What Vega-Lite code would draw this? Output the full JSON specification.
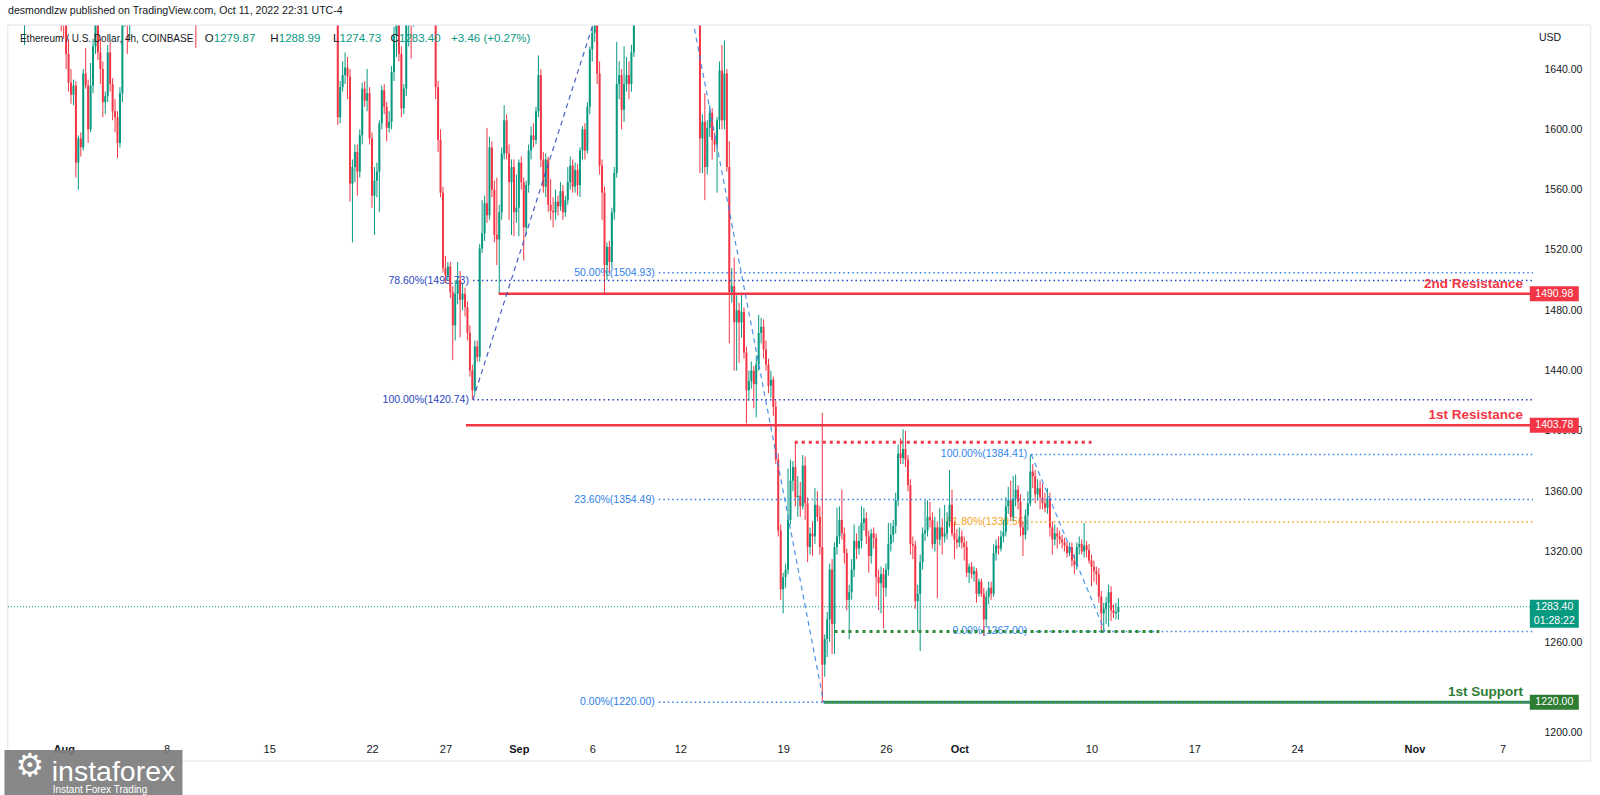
{
"$schema":"https://vega.github.io/schema/vega-lite/v6.json",
"width":1525,"height":712,
"autosize":{"type":"none"},
"padding":{"left":8,"top":25,"right":67,"bottom":58},
"background":"#ffffff",
"config":{"view":{"stroke":null},"font":"Liberation Sans, sans-serif"},
"title":{"text":"desmondlzw published on TradingView.com, Oct 11, 2022 22:31 UTC-4","anchor":"start","frame":"group","offset":6,"fontSize":10.6,"fontWeight":"normal","color":"#131722","font":"Liberation Sans, sans-serif"},
"datasets":{
"candles":[
{"t":"2022-07-28T16:00","o":1690,"h":1725,"l":1685,"c":1720},{"t":"2022-07-28T20:00","o":1720,"h":1745,"l":1712,"c":1738},
{"t":"2022-07-29T00:00","o":1738,"h":1765,"l":1730,"c":1755},{"t":"2022-07-29T04:00","o":1755,"h":1760,"l":1695,"c":1700},{"t":"2022-07-29T08:00","o":1700,"h":1738,"l":1656,"c":1725},{"t":"2022-07-29T12:00","o":1725,"h":1748,"l":1715,"c":1740},{"t":"2022-07-29T16:00","o":1740,"h":1752,"l":1725,"c":1732},{"t":"2022-07-29T20:00","o":1732,"h":1745,"l":1722,"c":1738},
{"t":"2022-07-30T00:00","o":1738,"h":1760,"l":1730,"c":1752},{"t":"2022-07-30T04:00","o":1752,"h":1765,"l":1740,"c":1745},{"t":"2022-07-30T08:00","o":1745,"h":1750,"l":1722,"c":1728},{"t":"2022-07-30T12:00","o":1728,"h":1740,"l":1715,"c":1735},{"t":"2022-07-30T16:00","o":1735,"h":1742,"l":1712,"c":1718},{"t":"2022-07-30T20:00","o":1718,"h":1725,"l":1700,"c":1705},
{"t":"2022-07-31T00:00","o":1705,"h":1720,"l":1696,"c":1712},{"t":"2022-07-31T04:00","o":1712,"h":1730,"l":1705,"c":1722},{"t":"2022-07-31T08:00","o":1722,"h":1728,"l":1700,"c":1706},{"t":"2022-07-31T12:00","o":1706,"h":1712,"l":1688,"c":1695},{"t":"2022-07-31T16:00","o":1695,"h":1702,"l":1675,"c":1688},{"t":"2022-07-31T20:00","o":1688,"h":1698,"l":1665,"c":1680},
{"t":"2022-08-01T00:00","o":1680,"h":1695,"l":1660,"c":1670},{"t":"2022-08-01T04:00","o":1670,"h":1676,"l":1640,"c":1650},{"t":"2022-08-01T08:00","o":1650,"h":1660,"l":1625,"c":1631},{"t":"2022-08-01T12:00","o":1631,"h":1640,"l":1617,"c":1623},{"t":"2022-08-01T16:00","o":1623,"h":1633,"l":1616,"c":1629},{"t":"2022-08-01T20:00","o":1629,"h":1632,"l":1568,"c":1578},
{"t":"2022-08-02T00:00","o":1578,"h":1596,"l":1560,"c":1594},{"t":"2022-08-02T04:00","o":1594,"h":1598,"l":1582,"c":1588},{"t":"2022-08-02T08:00","o":1588,"h":1640,"l":1586,"c":1637},{"t":"2022-08-02T12:00","o":1637,"h":1654,"l":1627,"c":1629},{"t":"2022-08-02T16:00","o":1629,"h":1633,"l":1591,"c":1600},{"t":"2022-08-02T20:00","o":1600,"h":1644,"l":1598,"c":1629},
{"t":"2022-08-03T00:00","o":1629,"h":1660,"l":1624,"c":1655},{"t":"2022-08-03T04:00","o":1655,"h":1690,"l":1650,"c":1680},{"t":"2022-08-03T08:00","o":1680,"h":1688,"l":1646,"c":1651},{"t":"2022-08-03T12:00","o":1651,"h":1660,"l":1630,"c":1640},{"t":"2022-08-03T16:00","o":1640,"h":1645,"l":1608,"c":1618},{"t":"2022-08-03T20:00","o":1618,"h":1625,"l":1610,"c":1622},
{"t":"2022-08-04T00:00","o":1622,"h":1656,"l":1618,"c":1651},{"t":"2022-08-04T04:00","o":1651,"h":1658,"l":1625,"c":1630},{"t":"2022-08-04T08:00","o":1630,"h":1634,"l":1606,"c":1612},{"t":"2022-08-04T12:00","o":1612,"h":1620,"l":1598,"c":1608},{"t":"2022-08-04T16:00","o":1608,"h":1612,"l":1581,"c":1591},{"t":"2022-08-04T20:00","o":1591,"h":1628,"l":1588,"c":1624},
{"t":"2022-08-05T00:00","o":1624,"h":1700,"l":1618,"c":1690},{"t":"2022-08-05T04:00","o":1690,"h":1722,"l":1668,"c":1710},{"t":"2022-08-05T08:00","o":1710,"h":1725,"l":1650,"c":1698},{"t":"2022-08-05T12:00","o":1698,"h":1715,"l":1660,"c":1708},{"t":"2022-08-05T16:00","o":1708,"h":1740,"l":1700,"c":1730},{"t":"2022-08-05T20:00","o":1730,"h":1742,"l":1715,"c":1725},
{"t":"2022-08-06T00:00","o":1725,"h":1745,"l":1720,"c":1735},{"t":"2022-08-06T04:00","o":1735,"h":1740,"l":1722,"c":1728},{"t":"2022-08-06T08:00","o":1728,"h":1732,"l":1708,"c":1715},{"t":"2022-08-06T12:00","o":1715,"h":1728,"l":1710,"c":1720},{"t":"2022-08-06T16:00","o":1720,"h":1724,"l":1705,"c":1712},{"t":"2022-08-06T20:00","o":1712,"h":1718,"l":1698,"c":1705},
{"t":"2022-08-07T00:00","o":1705,"h":1710,"l":1684,"c":1698},{"t":"2022-08-07T04:00","o":1698,"h":1712,"l":1692,"c":1705},{"t":"2022-08-07T08:00","o":1705,"h":1722,"l":1700,"c":1715},{"t":"2022-08-07T12:00","o":1715,"h":1720,"l":1696,"c":1702},{"t":"2022-08-07T16:00","o":1702,"h":1716,"l":1698,"c":1710},{"t":"2022-08-07T20:00","o":1710,"h":1728,"l":1705,"c":1720},
{"t":"2022-08-08T00:00","o":1720,"h":1768,"l":1715,"c":1760},{"t":"2022-08-08T04:00","o":1760,"h":1805,"l":1752,"c":1790},{"t":"2022-08-08T08:00","o":1790,"h":1798,"l":1768,"c":1775},{"t":"2022-08-08T12:00","o":1775,"h":1792,"l":1770,"c":1780},{"t":"2022-08-08T16:00","o":1780,"h":1786,"l":1762,"c":1770},{"t":"2022-08-08T20:00","o":1770,"h":1782,"l":1760,"c":1775},
{"t":"2022-08-09T00:00","o":1775,"h":1780,"l":1755,"c":1765},{"t":"2022-08-09T04:00","o":1765,"h":1770,"l":1742,"c":1750},{"t":"2022-08-09T08:00","o":1750,"h":1758,"l":1732,"c":1740},{"t":"2022-08-09T12:00","o":1740,"h":1746,"l":1712,"c":1720},{"t":"2022-08-09T16:00","o":1720,"h":1728,"l":1692,"c":1700},{"t":"2022-08-09T20:00","o":1700,"h":1708,"l":1680,"c":1690},
{"t":"2022-08-10T00:00","o":1690,"h":1698,"l":1654,"c":1682},{"t":"2022-08-10T04:00","o":1682,"h":1705,"l":1676,"c":1700},{"t":"2022-08-10T08:00","o":1700,"h":1726,"l":1695,"c":1720},{"t":"2022-08-10T12:00","o":1720,"h":1848,"l":1715,"c":1840},{"t":"2022-08-10T16:00","o":1840,"h":1852,"l":1815,"c":1830},{"t":"2022-08-10T20:00","o":1830,"h":1858,"l":1825,"c":1850},
{"t":"2022-08-11T00:00","o":1850,"h":1868,"l":1842,"c":1860},{"t":"2022-08-11T04:00","o":1860,"h":1890,"l":1852,"c":1880},{"t":"2022-08-11T08:00","o":1880,"h":1886,"l":1860,"c":1870},{"t":"2022-08-11T12:00","o":1870,"h":1935,"l":1866,"c":1900},{"t":"2022-08-11T16:00","o":1900,"h":1905,"l":1872,"c":1880},{"t":"2022-08-11T20:00","o":1880,"h":1892,"l":1870,"c":1884},
{"t":"2022-08-12T00:00","o":1884,"h":1886,"l":1862,"c":1870},{"t":"2022-08-12T04:00","o":1870,"h":1895,"l":1865,"c":1890},{"t":"2022-08-12T08:00","o":1890,"h":1905,"l":1882,"c":1900},{"t":"2022-08-12T12:00","o":1900,"h":1915,"l":1892,"c":1910},{"t":"2022-08-12T16:00","o":1910,"h":1926,"l":1902,"c":1920},{"t":"2022-08-12T20:00","o":1920,"h":1958,"l":1915,"c":1950},
{"t":"2022-08-13T00:00","o":1950,"h":1975,"l":1945,"c":1970},{"t":"2022-08-13T04:00","o":1970,"h":1988,"l":1962,"c":1980},{"t":"2022-08-13T08:00","o":1980,"h":1998,"l":1975,"c":1990},{"t":"2022-08-13T12:00","o":1990,"h":1994,"l":1968,"c":1975},{"t":"2022-08-13T16:00","o":1975,"h":1990,"l":1970,"c":1985},{"t":"2022-08-13T20:00","o":1985,"h":1992,"l":1972,"c":1980},
{"t":"2022-08-14T00:00","o":1980,"h":2000,"l":1976,"c":1995},{"t":"2022-08-14T04:00","o":1995,"h":2020,"l":1990,"c":2010},{"t":"2022-08-14T08:00","o":2010,"h":2015,"l":1975,"c":1980},{"t":"2022-08-14T12:00","o":1980,"h":1985,"l":1952,"c":1960},{"t":"2022-08-14T16:00","o":1960,"h":1968,"l":1932,"c":1940},{"t":"2022-08-14T20:00","o":1940,"h":1948,"l":1925,"c":1935},
{"t":"2022-08-15T00:00","o":1935,"h":1958,"l":1930,"c":1950},{"t":"2022-08-15T04:00","o":1950,"h":2012,"l":1945,"c":1980},{"t":"2022-08-15T08:00","o":1980,"h":1985,"l":1900,"c":1910},{"t":"2022-08-15T12:00","o":1910,"h":1916,"l":1882,"c":1890},{"t":"2022-08-15T16:00","o":1890,"h":1906,"l":1885,"c":1900},{"t":"2022-08-15T20:00","o":1900,"h":1910,"l":1892,"c":1905},
{"t":"2022-08-16T00:00","o":1905,"h":1908,"l":1872,"c":1880},{"t":"2022-08-16T04:00","o":1880,"h":1892,"l":1874,"c":1885},{"t":"2022-08-16T08:00","o":1885,"h":1906,"l":1880,"c":1900},{"t":"2022-08-16T12:00","o":1900,"h":1904,"l":1882,"c":1890},{"t":"2022-08-16T16:00","o":1890,"h":1895,"l":1872,"c":1880},{"t":"2022-08-16T20:00","o":1880,"h":1886,"l":1868,"c":1875},
{"t":"2022-08-17T00:00","o":1875,"h":1890,"l":1870,"c":1880},{"t":"2022-08-17T04:00","o":1880,"h":1884,"l":1852,"c":1860},{"t":"2022-08-17T08:00","o":1860,"h":1864,"l":1832,"c":1840},{"t":"2022-08-17T12:00","o":1840,"h":1856,"l":1835,"c":1850},{"t":"2022-08-17T16:00","o":1850,"h":1854,"l":1828,"c":1835},{"t":"2022-08-17T20:00","o":1835,"h":1840,"l":1822,"c":1830},
{"t":"2022-08-18T00:00","o":1830,"h":1850,"l":1825,"c":1845},{"t":"2022-08-18T04:00","o":1845,"h":1868,"l":1840,"c":1860},{"t":"2022-08-18T08:00","o":1860,"h":1864,"l":1842,"c":1850},{"t":"2022-08-18T12:00","o":1850,"h":1860,"l":1844,"c":1855},{"t":"2022-08-18T16:00","o":1855,"h":1858,"l":1836,"c":1845},{"t":"2022-08-18T20:00","o":1845,"h":1848,"l":1715,"c":1725},
{"t":"2022-08-19T00:00","o":1725,"h":1735,"l":1700,"c":1712},{"t":"2022-08-19T04:00","o":1712,"h":1720,"l":1690,"c":1705},{"t":"2022-08-19T08:00","o":1705,"h":1712,"l":1684,"c":1700},{"t":"2022-08-19T12:00","o":1700,"h":1708,"l":1680,"c":1690},{"t":"2022-08-19T16:00","o":1690,"h":1700,"l":1603,"c":1608},{"t":"2022-08-19T20:00","o":1608,"h":1632,"l":1604,"c":1628},
{"t":"2022-08-20T00:00","o":1628,"h":1645,"l":1625,"c":1636},{"t":"2022-08-20T04:00","o":1636,"h":1651,"l":1630,"c":1641},{"t":"2022-08-20T08:00","o":1641,"h":1648,"l":1620,"c":1635},{"t":"2022-08-20T12:00","o":1635,"h":1640,"l":1552,"c":1564},{"t":"2022-08-20T16:00","o":1564,"h":1580,"l":1525,"c":1575},{"t":"2022-08-20T20:00","o":1575,"h":1590,"l":1565,"c":1585},
{"t":"2022-08-21T00:00","o":1585,"h":1590,"l":1556,"c":1572},{"t":"2022-08-21T04:00","o":1572,"h":1600,"l":1568,"c":1596},{"t":"2022-08-21T08:00","o":1596,"h":1631,"l":1590,"c":1627},{"t":"2022-08-21T12:00","o":1627,"h":1632,"l":1615,"c":1619},{"t":"2022-08-21T16:00","o":1619,"h":1640,"l":1612,"c":1624},{"t":"2022-08-21T20:00","o":1624,"h":1628,"l":1590,"c":1594},
{"t":"2022-08-22T00:00","o":1594,"h":1598,"l":1548,"c":1556},{"t":"2022-08-22T04:00","o":1556,"h":1575,"l":1530,"c":1566},{"t":"2022-08-22T08:00","o":1566,"h":1578,"l":1555,"c":1572},{"t":"2022-08-22T12:00","o":1572,"h":1606,"l":1545,"c":1604},{"t":"2022-08-22T16:00","o":1604,"h":1629,"l":1600,"c":1626},{"t":"2022-08-22T20:00","o":1626,"h":1630,"l":1610,"c":1615},
{"t":"2022-08-23T00:00","o":1615,"h":1618,"l":1592,"c":1601},{"t":"2022-08-23T04:00","o":1601,"h":1612,"l":1598,"c":1605},{"t":"2022-08-23T08:00","o":1605,"h":1642,"l":1600,"c":1638},{"t":"2022-08-23T12:00","o":1638,"h":1668,"l":1632,"c":1662},{"t":"2022-08-23T16:00","o":1662,"h":1680,"l":1648,"c":1672},{"t":"2022-08-23T20:00","o":1672,"h":1676,"l":1645,"c":1650},
{"t":"2022-08-24T00:00","o":1650,"h":1655,"l":1608,"c":1614},{"t":"2022-08-24T04:00","o":1614,"h":1630,"l":1610,"c":1627},{"t":"2022-08-24T08:00","o":1627,"h":1680,"l":1622,"c":1672},{"t":"2022-08-24T12:00","o":1672,"h":1685,"l":1655,"c":1680},{"t":"2022-08-24T16:00","o":1680,"h":1690,"l":1647,"c":1675},{"t":"2022-08-24T20:00","o":1675,"h":1700,"l":1668,"c":1695},
{"t":"2022-08-25T00:00","o":1695,"h":1712,"l":1688,"c":1705},{"t":"2022-08-25T04:00","o":1705,"h":1715,"l":1690,"c":1698},{"t":"2022-08-25T08:00","o":1698,"h":1722,"l":1692,"c":1712},{"t":"2022-08-25T12:00","o":1712,"h":1720,"l":1698,"c":1705},{"t":"2022-08-25T16:00","o":1705,"h":1716,"l":1694,"c":1700},{"t":"2022-08-25T20:00","o":1700,"h":1708,"l":1688,"c":1695},
{"t":"2022-08-26T00:00","o":1695,"h":1702,"l":1680,"c":1690},{"t":"2022-08-26T04:00","o":1690,"h":1712,"l":1682,"c":1700},{"t":"2022-08-26T08:00","o":1700,"h":1705,"l":1620,"c":1628},{"t":"2022-08-26T12:00","o":1628,"h":1632,"l":1585,"c":1593},{"t":"2022-08-26T16:00","o":1593,"h":1600,"l":1555,"c":1558},{"t":"2022-08-26T20:00","o":1558,"h":1562,"l":1505,"c":1508},
{"t":"2022-08-27T00:00","o":1508,"h":1516,"l":1498,"c":1503},{"t":"2022-08-27T04:00","o":1503,"h":1512,"l":1500,"c":1509},{"t":"2022-08-27T08:00","o":1509,"h":1512,"l":1488,"c":1492},{"t":"2022-08-27T12:00","o":1492,"h":1496,"l":1447,"c":1470},{"t":"2022-08-27T16:00","o":1470,"h":1500,"l":1460,"c":1491},{"t":"2022-08-27T20:00","o":1491,"h":1512,"l":1484,"c":1500},
{"t":"2022-08-28T00:00","o":1500,"h":1506,"l":1462,"c":1487},{"t":"2022-08-28T04:00","o":1487,"h":1498,"l":1480,"c":1491},{"t":"2022-08-28T08:00","o":1491,"h":1495,"l":1476,"c":1482},{"t":"2022-08-28T12:00","o":1482,"h":1486,"l":1460,"c":1465},{"t":"2022-08-28T16:00","o":1465,"h":1470,"l":1436,"c":1440},{"t":"2022-08-28T20:00","o":1440,"h":1444,"l":1420.74,"c":1427},
{"t":"2022-08-29T00:00","o":1427,"h":1460,"l":1424,"c":1456},{"t":"2022-08-29T04:00","o":1456,"h":1460,"l":1446,"c":1449},{"t":"2022-08-29T08:00","o":1449,"h":1524,"l":1446,"c":1521},{"t":"2022-08-29T12:00","o":1521,"h":1553,"l":1518,"c":1531},{"t":"2022-08-29T16:00","o":1531,"h":1556,"l":1526,"c":1551},{"t":"2022-08-29T20:00","o":1551,"h":1601,"l":1538,"c":1543},
{"t":"2022-08-30T00:00","o":1543,"h":1595,"l":1540,"c":1588},{"t":"2022-08-30T04:00","o":1588,"h":1592,"l":1555,"c":1560},{"t":"2022-08-30T08:00","o":1560,"h":1566,"l":1525,"c":1530},{"t":"2022-08-30T12:00","o":1530,"h":1568,"l":1510,"c":1527},{"t":"2022-08-30T16:00","o":1527,"h":1550,"l":1490.98,"c":1545},{"t":"2022-08-30T20:00","o":1545,"h":1588,"l":1540,"c":1584},
{"t":"2022-08-31T00:00","o":1584,"h":1616,"l":1580,"c":1606},{"t":"2022-08-31T04:00","o":1606,"h":1610,"l":1580,"c":1584},{"t":"2022-08-31T08:00","o":1584,"h":1590,"l":1540,"c":1565},{"t":"2022-08-31T12:00","o":1565,"h":1580,"l":1530,"c":1575},{"t":"2022-08-31T16:00","o":1575,"h":1580,"l":1529,"c":1545},{"t":"2022-08-31T20:00","o":1545,"h":1570,"l":1538,"c":1548},
{"t":"2022-09-01T00:00","o":1548,"h":1580,"l":1529,"c":1578},{"t":"2022-09-01T04:00","o":1578,"h":1582,"l":1560,"c":1565},{"t":"2022-09-01T08:00","o":1565,"h":1568,"l":1513,"c":1535},{"t":"2022-09-01T12:00","o":1535,"h":1566,"l":1530,"c":1563},{"t":"2022-09-01T16:00","o":1563,"h":1590,"l":1558,"c":1586},{"t":"2022-09-01T20:00","o":1586,"h":1602,"l":1580,"c":1596},
{"t":"2022-09-02T00:00","o":1596,"h":1604,"l":1588,"c":1593},{"t":"2022-09-02T04:00","o":1593,"h":1615,"l":1590,"c":1612},{"t":"2022-09-02T08:00","o":1612,"h":1649,"l":1608,"c":1636},{"t":"2022-09-02T12:00","o":1636,"h":1640,"l":1575,"c":1580},{"t":"2022-09-02T16:00","o":1580,"h":1585,"l":1558,"c":1562},{"t":"2022-09-02T20:00","o":1562,"h":1584,"l":1555,"c":1580},
{"t":"2022-09-03T00:00","o":1580,"h":1582,"l":1545,"c":1550},{"t":"2022-09-03T04:00","o":1550,"h":1567,"l":1540,"c":1546},{"t":"2022-09-03T08:00","o":1546,"h":1555,"l":1535,"c":1545},{"t":"2022-09-03T12:00","o":1545,"h":1560,"l":1540,"c":1552},{"t":"2022-09-03T16:00","o":1552,"h":1556,"l":1543,"c":1549},{"t":"2022-09-03T20:00","o":1549,"h":1565,"l":1546,"c":1559},
{"t":"2022-09-04T00:00","o":1559,"h":1563,"l":1540,"c":1545},{"t":"2022-09-04T04:00","o":1545,"h":1556,"l":1542,"c":1553},{"t":"2022-09-04T08:00","o":1553,"h":1575,"l":1550,"c":1565},{"t":"2022-09-04T12:00","o":1565,"h":1582,"l":1560,"c":1576},{"t":"2022-09-04T16:00","o":1576,"h":1580,"l":1558,"c":1562},{"t":"2022-09-04T20:00","o":1562,"h":1578,"l":1558,"c":1573},
{"t":"2022-09-05T00:00","o":1573,"h":1577,"l":1556,"c":1563},{"t":"2022-09-05T04:00","o":1563,"h":1588,"l":1555,"c":1586},{"t":"2022-09-05T08:00","o":1586,"h":1602,"l":1580,"c":1600},{"t":"2022-09-05T12:00","o":1600,"h":1604,"l":1580,"c":1586},{"t":"2022-09-05T16:00","o":1586,"h":1618,"l":1584,"c":1615},{"t":"2022-09-05T20:00","o":1615,"h":1655,"l":1610,"c":1653},
{"t":"2022-09-06T00:00","o":1653,"h":1668,"l":1645,"c":1664},{"t":"2022-09-06T04:00","o":1664,"h":1690,"l":1658,"c":1685},{"t":"2022-09-06T08:00","o":1685,"h":1700,"l":1630,"c":1637},{"t":"2022-09-06T12:00","o":1637,"h":1645,"l":1570,"c":1576},{"t":"2022-09-06T16:00","o":1576,"h":1580,"l":1540,"c":1558},{"t":"2022-09-06T20:00","o":1558,"h":1562,"l":1490.98,"c":1510},
{"t":"2022-09-07T00:00","o":1510,"h":1525,"l":1500,"c":1522},{"t":"2022-09-07T04:00","o":1522,"h":1526,"l":1505,"c":1512},{"t":"2022-09-07T08:00","o":1512,"h":1548,"l":1508,"c":1545},{"t":"2022-09-07T12:00","o":1545,"h":1575,"l":1540,"c":1571},{"t":"2022-09-07T16:00","o":1571,"h":1658,"l":1568,"c":1630},{"t":"2022-09-07T20:00","o":1630,"h":1645,"l":1620,"c":1636},
{"t":"2022-09-08T00:00","o":1636,"h":1640,"l":1600,"c":1613},{"t":"2022-09-08T04:00","o":1613,"h":1655,"l":1605,"c":1630},{"t":"2022-09-08T08:00","o":1630,"h":1648,"l":1625,"c":1636},{"t":"2022-09-08T12:00","o":1636,"h":1645,"l":1620,"c":1630},{"t":"2022-09-08T16:00","o":1630,"h":1656,"l":1625,"c":1651},{"t":"2022-09-08T20:00","o":1651,"h":1690,"l":1648,"c":1680},
{"t":"2022-09-09T00:00","o":1680,"h":1720,"l":1675,"c":1710},{"t":"2022-09-09T04:00","o":1710,"h":1735,"l":1700,"c":1725},{"t":"2022-09-09T08:00","o":1725,"h":1732,"l":1712,"c":1720},{"t":"2022-09-09T12:00","o":1720,"h":1738,"l":1715,"c":1730},{"t":"2022-09-09T16:00","o":1730,"h":1735,"l":1708,"c":1715},{"t":"2022-09-09T20:00","o":1715,"h":1745,"l":1710,"c":1740},
{"t":"2022-09-10T00:00","o":1740,"h":1789.86,"l":1735,"c":1775},{"t":"2022-09-10T04:00","o":1775,"h":1782,"l":1758,"c":1765},{"t":"2022-09-10T08:00","o":1765,"h":1770,"l":1742,"c":1750},{"t":"2022-09-10T12:00","o":1750,"h":1766,"l":1745,"c":1760},{"t":"2022-09-10T16:00","o":1760,"h":1764,"l":1738,"c":1745},{"t":"2022-09-10T20:00","o":1745,"h":1765,"l":1740,"c":1760},
{"t":"2022-09-11T00:00","o":1760,"h":1778,"l":1752,"c":1770},{"t":"2022-09-11T04:00","o":1770,"h":1774,"l":1748,"c":1755},{"t":"2022-09-11T08:00","o":1755,"h":1760,"l":1732,"c":1740},{"t":"2022-09-11T12:00","o":1740,"h":1745,"l":1722,"c":1730},{"t":"2022-09-11T16:00","o":1730,"h":1740,"l":1725,"c":1735},{"t":"2022-09-11T20:00","o":1735,"h":1738,"l":1715,"c":1720},
{"t":"2022-09-12T00:00","o":1720,"h":1726,"l":1702,"c":1710},{"t":"2022-09-12T04:00","o":1710,"h":1722,"l":1705,"c":1715},{"t":"2022-09-12T08:00","o":1715,"h":1720,"l":1698,"c":1705},{"t":"2022-09-12T12:00","o":1705,"h":1715,"l":1698,"c":1710},{"t":"2022-09-12T16:00","o":1710,"h":1728,"l":1705,"c":1720},{"t":"2022-09-12T20:00","o":1720,"h":1724,"l":1706,"c":1715},
{"t":"2022-09-13T00:00","o":1715,"h":1722,"l":1708,"c":1716},{"t":"2022-09-13T04:00","o":1716,"h":1720,"l":1705,"c":1712},{"t":"2022-09-13T08:00","o":1712,"h":1720,"l":1571,"c":1594},{"t":"2022-09-13T12:00","o":1594,"h":1610,"l":1571,"c":1605},{"t":"2022-09-13T16:00","o":1605,"h":1624,"l":1553,"c":1575},{"t":"2022-09-13T20:00","o":1575,"h":1606,"l":1570,"c":1601},
{"t":"2022-09-14T00:00","o":1601,"h":1616,"l":1595,"c":1611},{"t":"2022-09-14T04:00","o":1611,"h":1614,"l":1580,"c":1593},{"t":"2022-09-14T08:00","o":1593,"h":1598,"l":1585,"c":1590},{"t":"2022-09-14T12:00","o":1590,"h":1608,"l":1558,"c":1606},{"t":"2022-09-14T16:00","o":1606,"h":1645,"l":1600,"c":1639},{"t":"2022-09-14T20:00","o":1639,"h":1656,"l":1600,"c":1606},
{"t":"2022-09-15T00:00","o":1606,"h":1659,"l":1600,"c":1637},{"t":"2022-09-15T04:00","o":1637,"h":1640,"l":1572,"c":1575},{"t":"2022-09-15T08:00","o":1575,"h":1592,"l":1458,"c":1492},{"t":"2022-09-15T12:00","o":1492,"h":1508,"l":1485,"c":1496},{"t":"2022-09-15T16:00","o":1496,"h":1515,"l":1440,"c":1472},{"t":"2022-09-15T20:00","o":1472,"h":1490,"l":1440,"c":1480},
{"t":"2022-09-16T00:00","o":1480,"h":1485,"l":1445,"c":1472},{"t":"2022-09-16T04:00","o":1472,"h":1490,"l":1462,"c":1479},{"t":"2022-09-16T08:00","o":1479,"h":1482,"l":1448,"c":1452},{"t":"2022-09-16T12:00","o":1452,"h":1456,"l":1405,"c":1427},{"t":"2022-09-16T16:00","o":1427,"h":1440,"l":1420,"c":1433},{"t":"2022-09-16T20:00","o":1433,"h":1446,"l":1428,"c":1440},
{"t":"2022-09-17T00:00","o":1440,"h":1443,"l":1415,"c":1431},{"t":"2022-09-17T04:00","o":1431,"h":1450,"l":1409,"c":1444},{"t":"2022-09-17T08:00","o":1444,"h":1477,"l":1440,"c":1465},{"t":"2022-09-17T12:00","o":1465,"h":1475,"l":1458,"c":1469},{"t":"2022-09-17T16:00","o":1469,"h":1474,"l":1448,"c":1454},{"t":"2022-09-17T20:00","o":1454,"h":1460,"l":1440,"c":1444},
{"t":"2022-09-18T00:00","o":1444,"h":1448,"l":1425,"c":1430},{"t":"2022-09-18T04:00","o":1430,"h":1440,"l":1422,"c":1434},{"t":"2022-09-18T08:00","o":1434,"h":1436,"l":1410,"c":1416},{"t":"2022-09-18T12:00","o":1416,"h":1420,"l":1378,"c":1381},{"t":"2022-09-18T16:00","o":1381,"h":1385,"l":1330,"c":1334},{"t":"2022-09-18T20:00","o":1334,"h":1338,"l":1288,"c":1295},
{"t":"2022-09-19T00:00","o":1295,"h":1306,"l":1279,"c":1303},{"t":"2022-09-19T04:00","o":1303,"h":1312,"l":1296,"c":1308},{"t":"2022-09-19T08:00","o":1308,"h":1375,"l":1305,"c":1341},{"t":"2022-09-19T12:00","o":1341,"h":1381,"l":1338,"c":1367},{"t":"2022-09-19T16:00","o":1367,"h":1380,"l":1360,"c":1376},{"t":"2022-09-19T20:00","o":1376,"h":1392.4,"l":1350,"c":1356},
{"t":"2022-09-20T00:00","o":1356,"h":1370,"l":1343,"c":1357},{"t":"2022-09-20T04:00","o":1357,"h":1366,"l":1343,"c":1350},{"t":"2022-09-20T08:00","o":1350,"h":1384,"l":1348,"c":1377},{"t":"2022-09-20T12:00","o":1377,"h":1383,"l":1341,"c":1352},{"t":"2022-09-20T16:00","o":1352,"h":1356,"l":1313,"c":1323},{"t":"2022-09-20T20:00","o":1323,"h":1336,"l":1318,"c":1332},
{"t":"2022-09-21T00:00","o":1332,"h":1340,"l":1317,"c":1330},{"t":"2022-09-21T04:00","o":1330,"h":1362,"l":1325,"c":1351},{"t":"2022-09-21T08:00","o":1351,"h":1360,"l":1340,"c":1343},{"t":"2022-09-21T12:00","o":1343,"h":1350,"l":1318,"c":1323},{"t":"2022-09-21T16:00","o":1323,"h":1412,"l":1220,"c":1245},{"t":"2022-09-21T20:00","o":1245,"h":1265,"l":1237,"c":1262},
{"t":"2022-09-22T00:00","o":1262,"h":1280,"l":1250,"c":1275},{"t":"2022-09-22T04:00","o":1275,"h":1312,"l":1260,"c":1308},{"t":"2022-09-22T08:00","o":1308,"h":1315,"l":1252,"c":1272},{"t":"2022-09-22T12:00","o":1272,"h":1326,"l":1252,"c":1323},{"t":"2022-09-22T16:00","o":1323,"h":1349,"l":1318,"c":1330},{"t":"2022-09-22T20:00","o":1330,"h":1350,"l":1325,"c":1341},
{"t":"2022-09-23T00:00","o":1341,"h":1361,"l":1328,"c":1332},{"t":"2022-09-23T04:00","o":1332,"h":1336,"l":1312,"c":1319},{"t":"2022-09-23T08:00","o":1319,"h":1322,"l":1281,"c":1288},{"t":"2022-09-23T12:00","o":1288,"h":1298,"l":1262,"c":1293},{"t":"2022-09-23T16:00","o":1293,"h":1315,"l":1288,"c":1308},{"t":"2022-09-23T20:00","o":1308,"h":1338,"l":1303,"c":1327},
{"t":"2022-09-24T00:00","o":1327,"h":1332,"l":1315,"c":1322},{"t":"2022-09-24T04:00","o":1322,"h":1337,"l":1318,"c":1327},{"t":"2022-09-24T08:00","o":1327,"h":1350,"l":1322,"c":1339},{"t":"2022-09-24T12:00","o":1339,"h":1349,"l":1334,"c":1342},{"t":"2022-09-24T16:00","o":1342,"h":1346,"l":1325,"c":1330},{"t":"2022-09-24T20:00","o":1330,"h":1334,"l":1306,"c":1317},
{"t":"2022-09-25T00:00","o":1317,"h":1335,"l":1312,"c":1332},{"t":"2022-09-25T04:00","o":1332,"h":1336,"l":1322,"c":1329},{"t":"2022-09-25T08:00","o":1329,"h":1332,"l":1290,"c":1303},{"t":"2022-09-25T12:00","o":1303,"h":1308,"l":1281,"c":1299},{"t":"2022-09-25T16:00","o":1299,"h":1310,"l":1279,"c":1305},{"t":"2022-09-25T20:00","o":1305,"h":1309,"l":1269,"c":1296},
{"t":"2022-09-26T00:00","o":1296,"h":1312,"l":1290,"c":1308},{"t":"2022-09-26T04:00","o":1308,"h":1339,"l":1304,"c":1325},{"t":"2022-09-26T08:00","o":1325,"h":1339,"l":1320,"c":1331},{"t":"2022-09-26T12:00","o":1331,"h":1341,"l":1326,"c":1337},{"t":"2022-09-26T16:00","o":1337,"h":1359,"l":1332,"c":1354},{"t":"2022-09-26T20:00","o":1354,"h":1391,"l":1350,"c":1385},
{"t":"2022-09-27T00:00","o":1385,"h":1395,"l":1378,"c":1382},{"t":"2022-09-27T04:00","o":1382,"h":1401,"l":1378,"c":1388},{"t":"2022-09-27T08:00","o":1388,"h":1400,"l":1376,"c":1381},{"t":"2022-09-27T12:00","o":1381,"h":1384,"l":1360,"c":1364},{"t":"2022-09-27T16:00","o":1364,"h":1368,"l":1318,"c":1325},{"t":"2022-09-27T20:00","o":1325,"h":1330,"l":1315,"c":1324},
{"t":"2022-09-28T00:00","o":1324,"h":1327,"l":1282,"c":1287},{"t":"2022-09-28T04:00","o":1287,"h":1298,"l":1267,"c":1292},{"t":"2022-09-28T08:00","o":1292,"h":1318,"l":1254,"c":1313},{"t":"2022-09-28T12:00","o":1313,"h":1336,"l":1308,"c":1332},{"t":"2022-09-28T16:00","o":1332,"h":1354,"l":1327,"c":1334},{"t":"2022-09-28T20:00","o":1334,"h":1354,"l":1330,"c":1343},
{"t":"2022-09-29T00:00","o":1343,"h":1353,"l":1336,"c":1341},{"t":"2022-09-29T04:00","o":1341,"h":1346,"l":1322,"c":1325},{"t":"2022-09-29T08:00","o":1325,"h":1343,"l":1320,"c":1336},{"t":"2022-09-29T12:00","o":1336,"h":1340,"l":1289,"c":1328},{"t":"2022-09-29T16:00","o":1328,"h":1349,"l":1324,"c":1336},{"t":"2022-09-29T20:00","o":1336,"h":1342,"l":1318,"c":1330},
{"t":"2022-09-30T00:00","o":1330,"h":1351,"l":1326,"c":1332},{"t":"2022-09-30T04:00","o":1332,"h":1346,"l":1328,"c":1340},{"t":"2022-09-30T08:00","o":1340,"h":1374,"l":1336,"c":1351},{"t":"2022-09-30T12:00","o":1351,"h":1361,"l":1330,"c":1332},{"t":"2022-09-30T16:00","o":1332,"h":1340,"l":1315,"c":1328},{"t":"2022-09-30T20:00","o":1328,"h":1335,"l":1322,"c":1326},
{"t":"2022-10-01T00:00","o":1326,"h":1336,"l":1323,"c":1330},{"t":"2022-10-01T04:00","o":1330,"h":1334,"l":1322,"c":1326},{"t":"2022-10-01T08:00","o":1326,"h":1330,"l":1314,"c":1323},{"t":"2022-10-01T12:00","o":1323,"h":1327,"l":1303,"c":1306},{"t":"2022-10-01T16:00","o":1306,"h":1312,"l":1299,"c":1310},{"t":"2022-10-01T20:00","o":1310,"h":1313,"l":1302,"c":1305},
{"t":"2022-10-02T00:00","o":1305,"h":1310,"l":1300,"c":1307},{"t":"2022-10-02T04:00","o":1307,"h":1309,"l":1286,"c":1292},{"t":"2022-10-02T08:00","o":1292,"h":1302,"l":1290,"c":1300},{"t":"2022-10-02T12:00","o":1300,"h":1302,"l":1290,"c":1292},{"t":"2022-10-02T16:00","o":1292,"h":1296,"l":1264,"c":1275},{"t":"2022-10-02T20:00","o":1275,"h":1294,"l":1270,"c":1290},
{"t":"2022-10-03T00:00","o":1290,"h":1300,"l":1285,"c":1296},{"t":"2022-10-03T04:00","o":1296,"h":1300,"l":1288,"c":1292},{"t":"2022-10-03T08:00","o":1292,"h":1325,"l":1290,"c":1319},{"t":"2022-10-03T12:00","o":1319,"h":1328,"l":1314,"c":1324},{"t":"2022-10-03T16:00","o":1324,"h":1330,"l":1318,"c":1322},{"t":"2022-10-03T20:00","o":1322,"h":1334,"l":1320,"c":1330},
{"t":"2022-10-04T00:00","o":1330,"h":1341,"l":1326,"c":1333},{"t":"2022-10-04T04:00","o":1333,"h":1356,"l":1330,"c":1350},{"t":"2022-10-04T08:00","o":1350,"h":1363,"l":1345,"c":1354},{"t":"2022-10-04T12:00","o":1354,"h":1367,"l":1340,"c":1343},{"t":"2022-10-04T16:00","o":1343,"h":1370,"l":1340,"c":1355},{"t":"2022-10-04T20:00","o":1355,"h":1371,"l":1350,"c":1361},
{"t":"2022-10-05T00:00","o":1361,"h":1364,"l":1348,"c":1353},{"t":"2022-10-05T04:00","o":1353,"h":1358,"l":1330,"c":1336},{"t":"2022-10-05T08:00","o":1336,"h":1340,"l":1317,"c":1331},{"t":"2022-10-05T12:00","o":1331,"h":1348,"l":1328,"c":1344},{"t":"2022-10-05T16:00","o":1344,"h":1360,"l":1334,"c":1352},{"t":"2022-10-05T20:00","o":1352,"h":1384.41,"l":1350,"c":1373},
{"t":"2022-10-06T00:00","o":1373,"h":1378,"l":1362,"c":1370},{"t":"2022-10-06T04:00","o":1370,"h":1374,"l":1352,"c":1358},{"t":"2022-10-06T08:00","o":1358,"h":1368,"l":1354,"c":1362},{"t":"2022-10-06T12:00","o":1362,"h":1367,"l":1348,"c":1356},{"t":"2022-10-06T16:00","o":1356,"h":1365,"l":1348,"c":1352},{"t":"2022-10-06T20:00","o":1352,"h":1359,"l":1346,"c":1349},
{"t":"2022-10-07T00:00","o":1349,"h":1362,"l":1345,"c":1355},{"t":"2022-10-07T04:00","o":1355,"h":1359,"l":1330,"c":1336},{"t":"2022-10-07T08:00","o":1336,"h":1340,"l":1318,"c":1328},{"t":"2022-10-07T12:00","o":1328,"h":1338,"l":1324,"c":1332},{"t":"2022-10-07T16:00","o":1332,"h":1336,"l":1322,"c":1330},{"t":"2022-10-07T20:00","o":1330,"h":1334,"l":1325,"c":1328},
{"t":"2022-10-08T00:00","o":1328,"h":1331,"l":1322,"c":1326},{"t":"2022-10-08T04:00","o":1326,"h":1329,"l":1320,"c":1324},{"t":"2022-10-08T08:00","o":1324,"h":1327,"l":1316,"c":1319},{"t":"2022-10-08T12:00","o":1319,"h":1326,"l":1317,"c":1323},{"t":"2022-10-08T16:00","o":1323,"h":1326,"l":1310,"c":1314},{"t":"2022-10-08T20:00","o":1314,"h":1318,"l":1305,"c":1311},
{"t":"2022-10-09T00:00","o":1311,"h":1326,"l":1308,"c":1323},{"t":"2022-10-09T04:00","o":1323,"h":1330,"l":1318,"c":1325},{"t":"2022-10-09T08:00","o":1325,"h":1328,"l":1318,"c":1320},{"t":"2022-10-09T12:00","o":1320,"h":1339,"l":1316,"c":1324},{"t":"2022-10-09T16:00","o":1324,"h":1327,"l":1316,"c":1321},{"t":"2022-10-09T20:00","o":1321,"h":1325,"l":1312,"c":1314},
{"t":"2022-10-10T00:00","o":1314,"h":1318,"l":1297,"c":1310},{"t":"2022-10-10T04:00","o":1310,"h":1314,"l":1300,"c":1307},{"t":"2022-10-10T08:00","o":1307,"h":1310,"l":1298,"c":1305},{"t":"2022-10-10T12:00","o":1305,"h":1309,"l":1286,"c":1290},{"t":"2022-10-10T16:00","o":1290,"h":1294,"l":1267,"c":1279},{"t":"2022-10-10T20:00","o":1279,"h":1286,"l":1268,"c":1282},
{"t":"2022-10-11T00:00","o":1282,"h":1290,"l":1272,"c":1286},{"t":"2022-10-11T04:00","o":1286,"h":1298,"l":1270,"c":1293},{"t":"2022-10-11T08:00","o":1293,"h":1297,"l":1274,"c":1281},{"t":"2022-10-11T12:00","o":1281,"h":1285,"l":1276,"c":1279},{"t":"2022-10-11T16:00","o":1279,"h":1286,"l":1275,"c":1279.87},{"t":"2022-10-11T20:00","o":1279.87,"h":1288.99,"l":1274.73,"c":1283.4}
],
"fibs":[
{"p":1499.73,"s":"2022-08-28T21:00","lab":"78.60%(1499.73)","g":"A"},
{"p":1420.74,"s":"2022-08-28T21:00","lab":"100.00%(1420.74)","g":"A"},
{"p":1504.93,"s":"2022-09-10T12:45","lab":"50.00%(1504.93)","g":"B"},
{"p":1354.49,"s":"2022-09-10T12:45","lab":"23.60%(1354.49)","g":"B"},
{"p":1220,"s":"2022-09-10T12:45","lab":"0.00%(1220.00)","g":"B"},
{"p":1384.41,"s":"2022-10-05T21:30","lab":"100.00%(1384.41)","g":"C"},
{"p":1339.56,"s":"2022-10-05T21:30","lab":"61.80%(1339.56)","g":"Co"},
{"p":1267,"s":"2022-10-05T21:30","lab":"0.00%(1267.00)","g":"C"}
],
"diag":[
{"g":"A","t":"2022-08-28T21:00","p":1420.74},{"g":"A","t":"2022-09-10T00:00","p":1789.86},
{"g":"B","t":"2022-09-10T12:45","p":1789.86},{"g":"B","t":"2022-09-21T18:15","p":1220},
{"g":"C","t":"2022-10-05T21:30","p":1384.41},{"g":"C","t":"2022-10-10T22:00","p":1267}
],
"res":[{"p":1490.98,"s":"2022-08-30T15:00"},{"p":1403.78,"s":"2022-08-28T09:30"}],
"sup":[{"p":1220,"s":"2022-09-21T18:15"}],
"resDot":[{"p":1392.4,"s":"2022-09-19T19:00","e":"2022-10-10T00:00"}],
"supDot":[{"p":1267,"s":"2022-09-22T12:00","e":"2022-10-14T15:00"}],
"notes":[{"p":1490.98,"lab":"2nd Resistance","g":"res"},{"p":1403.78,"lab":"1st Resistance","g":"res"},{"p":1220,"lab":"1st Support","g":"sup"}],
"tags":[{"p":1490.98,"lab":"1490.98","g":"res"},{"p":1403.78,"lab":"1403.78","g":"res"},{"p":1220,"lab":"1220.00","g":"sup"}],
"last":[{"p":1283.4,"lab":"1283.40","lab2":"01:28:22"}]
},
"layer":[
{"data":{"name":"fibs"},"mark":{"type":"text","align":"right","baseline":"middle","dx":-4,"fontSize":10.5},
 "encoding":{
  "x":{"field":"s","type":"temporal","scale":{"domain":[{"year":2022,"month":7,"date":28,"hours":13,"minutes":11},{"year":2022,"month":11,"date":8,"hours":17,"minutes":30}],"nice":false},
   "axis":{"title":null,"values":[{"year":2022,"month":8,"date":1},{"year":2022,"month":8,"date":8},{"year":2022,"month":8,"date":15},{"year":2022,"month":8,"date":22},{"year":2022,"month":8,"date":27},{"year":2022,"month":9,"date":1},{"year":2022,"month":9,"date":6},{"year":2022,"month":9,"date":12},{"year":2022,"month":9,"date":19},{"year":2022,"month":9,"date":26},{"year":2022,"month":10,"date":1},{"year":2022,"month":10,"date":10},{"year":2022,"month":10,"date":17},{"year":2022,"month":10,"date":24},{"year":2022,"month":11,"date":1},{"year":2022,"month":11,"date":7}],
   "labelExpr":"date(datum.value) == 1 ? timeFormat(datum.value, '%b') : timeFormat(datum.value, '%-d')",
   "labelFontWeight":{"condition":{"test":"date(datum.value) == 1","value":"bold"},"value":"normal"},
   "ticks":false,"domain":false,"grid":false,"labelPadding":12,"labelBaseline":"middle","labelFontSize":11,"labelColor":"#131722","labelOverlap":false,"labelFlush":false,"labelBound":false}},
  "y":{"field":"p","type":"quantitative","scale":{"domain":[1197.0,1669.2],"zero":false,"nice":false},
   "axis":{"title":null,"orient":"right","values":[1200,1240,1260,1300,1320,1340,1360,1380,1400,1420,1440,1460,1480,1500,1520,1540,1560,1580,1600,1620,1640],"format":".2f","ticks":false,"domain":false,"grid":false,"labelAlign":"left","labelPadding":11,"labelFontSize":10.5,"labelColor":"#131722","labelOverlap":false,"labelBound":false}},
  "text":{"field":"lab"},
  "color":{"field":"g","type":"nominal","scale":{"domain":["A","B","C","Co"],"range":["#2a44c0","#2f7fe8","#2f86ee","#f2a31b"]},"legend":null}}},
{"data":{"name":"candles"},"mark":{"type":"rule","strokeWidth":1,"clip":true},
 "encoding":{"x":{"field":"t","type":"temporal"},"y":{"field":"l","type":"quantitative"},"y2":{"field":"h"},
  "color":{"condition":{"test":"datum.c >= datum.o","value":"#089981"},"value":"#f23645"}}},
{"data":{"name":"candles"},"mark":{"type":"bar","size":2,"clip":true},
 "encoding":{"x":{"field":"t","type":"temporal"},"y":{"field":"o","type":"quantitative"},"y2":{"field":"c"},
  "color":{"condition":{"test":"datum.c >= datum.o","value":"#089981"},"value":"#f23645"}}},
{"data":{"values":[{}]},"mark":{"type":"point","shape":"M-1,-0.46494L1,-0.46494L1,0.46494L-1,0.46494Z","size":2505889,"filled":false,"stroke":"#e0e3eb","strokeWidth":1,"opacity":1},
 "encoding":{"x":{"datum":{"year":2022,"month":9,"date":20,"hours":2,"minutes":26},"type":"temporal"},"y":{"datum":1425.1,"type":"quantitative"}}},
{"data":{"name":"last"},"mark":{"type":"rule","color":"#089981","strokeDash":[1,2],"strokeWidth":1,"clip":true},
 "encoding":{"y":{"field":"p","type":"quantitative"}}},
{"data":{"name":"res"},"mark":{"type":"rule","color":"#f23645","strokeWidth":2.5,"clip":true},
 "encoding":{"x":{"field":"s","type":"temporal"},"x2":{"datum":{"year":2022,"month":11,"date":12}},"y":{"field":"p","type":"quantitative"}}},
{"data":{"name":"sup"},"mark":{"type":"rule","color":"#388e3c","strokeWidth":3,"clip":true},
 "encoding":{"x":{"field":"s","type":"temporal"},"x2":{"datum":{"year":2022,"month":11,"date":12}},"y":{"field":"p","type":"quantitative"}}},
{"data":{"name":"fibs"},"mark":{"type":"rule","strokeWidth":1.5,"strokeDash":[1.5,3],"clip":true},
 "encoding":{"x":{"field":"s","type":"temporal"},"x2":{"datum":{"year":2022,"month":11,"date":12}},"y":{"field":"p","type":"quantitative"},
 "color":{"field":"g","type":"nominal","scale":{"domain":["A","B","C","Co"],"range":["#2a44c0","#2f7fe8","#2f86ee","#f2a31b"]},"legend":null}}},
{"data":{"name":"resDot"},"mark":{"type":"rule","color":"#f23645","strokeWidth":3,"strokeDash":[3,4],"clip":true},
 "encoding":{"x":{"field":"s","type":"temporal"},"x2":{"field":"e"},"y":{"field":"p","type":"quantitative"}}},
{"data":{"name":"supDot"},"mark":{"type":"rule","color":"#2e8b3a","strokeWidth":3,"strokeDash":[3,4],"clip":true},
 "encoding":{"x":{"field":"s","type":"temporal"},"x2":{"field":"e"},"y":{"field":"p","type":"quantitative"}}},
{"data":{"name":"diag"},"mark":{"type":"line","strokeWidth":1.2,"strokeDash":[5,4],"clip":true,"opacity":0.85},
 "encoding":{"x":{"field":"t","type":"temporal"},"y":{"field":"p","type":"quantitative"},"detail":{"field":"g"},
 "color":{"field":"g","type":"nominal","scale":{"domain":["A","B","C","Co"],"range":["#2a44c0","#2f7fe8","#2f86ee","#f2a31b"]},"legend":null}}},
{"data":{"name":"notes"},"mark":{"type":"text","align":"right","baseline":"alphabetic","dy":-6,"fontSize":13.5,"fontWeight":"bold"},
 "encoding":{"x":{"datum":{"year":2022,"month":11,"date":8,"hours":9,"minutes":22},"type":"temporal"},"y":{"field":"p","type":"quantitative"},"text":{"field":"lab"},
 "fill":{"field":"g","type":"nominal","scale":{"domain":["res","sup"],"range":["#f23645","#2e7d32"]},"legend":null}}},
{"data":{"name":"tags"},"mark":{"type":"point","shape":"M-1,-0.3061L1,-0.3061L1,0.3061L-1,0.3061Z","size":2401,"filled":true,"opacity":1,"strokeWidth":0},
 "encoding":{"x":{"datum":{"year":2022,"month":11,"date":10,"hours":12,"minutes":30},"type":"temporal"},"y":{"field":"p","type":"quantitative"},
 "fill":{"field":"g","type":"nominal","scale":{"domain":["res","sup"],"range":["#f23645","#2e7d32"]},"legend":null}}},
{"data":{"name":"tags"},"mark":{"type":"text","align":"center","baseline":"middle","fontSize":10.5,"color":"#ffffff"},
 "encoding":{"x":{"datum":{"year":2022,"month":11,"date":10,"hours":12,"minutes":30},"type":"temporal"},"y":{"field":"p","type":"quantitative"},"text":{"field":"lab"}}},
{"data":{"name":"last"},"mark":{"type":"point","shape":"M-1,-0.2857L1,-0.2857L1,0.8571L-1,0.8571Z","size":2401,"filled":true,"opacity":1,"strokeWidth":0,"color":"#089981"},
 "encoding":{"x":{"datum":{"year":2022,"month":11,"date":10,"hours":12,"minutes":30},"type":"temporal"},"y":{"field":"p","type":"quantitative"}}},
{"data":{"name":"last"},"mark":{"type":"text","align":"center","baseline":"middle","fontSize":10.5,"color":"#ffffff"},
 "encoding":{"x":{"datum":{"year":2022,"month":11,"date":10,"hours":12,"minutes":30},"type":"temporal"},"y":{"field":"p","type":"quantitative"},"text":{"field":"lab"}}},
{"data":{"name":"last"},"mark":{"type":"text","align":"center","baseline":"middle","fontSize":10.5,"color":"#ffffff","dy":14},
 "encoding":{"x":{"datum":{"year":2022,"month":11,"date":10,"hours":12,"minutes":30},"type":"temporal"},"y":{"field":"p","type":"quantitative"},"text":{"field":"lab2"}}},
{"data":{"values":[{}]},"mark":{"type":"text","align":"left","baseline":"middle","fontSize":10.5,"color":"#131722","text":"USD"},
 "encoding":{"x":{"datum":{"year":2022,"month":11,"date":9,"hours":11,"minutes":20},"type":"temporal"},"y":{"datum":1660.9,"type":"quantitative"}}},
{"data":{"values":[{}]},"mark":{"type":"text","align":"left","baseline":"middle","fontSize":10,"color":"#131722","text":"Ethereum / U.S. Dollar, 4h, COINBASE"},
 "encoding":{"x":{"datum":{"year":2022,"month":7,"date":29,"hours":0,"minutes":33},"type":"temporal"},"y":{"datum":1659.9,"type":"quantitative"}}},
{"data":{"values":[{}]},"mark":{"type":"text","align":"left","baseline":"middle","fontSize":11.5,"color":"#131722","text":"O"},
 "encoding":{"x":{"datum":{"year":2022,"month":8,"date":10,"hours":14,"minutes":35},"type":"temporal"},"y":{"datum":1659.9,"type":"quantitative"}}},
{"data":{"values":[{}]},"mark":{"type":"text","align":"left","baseline":"middle","fontSize":11.5,"color":"#089981","text":"1279.87","dx":9},
 "encoding":{"x":{"datum":{"year":2022,"month":8,"date":10,"hours":14,"minutes":35},"type":"temporal"},"y":{"datum":1659.9,"type":"quantitative"}}},
{"data":{"values":[{}]},"mark":{"type":"text","align":"left","baseline":"middle","fontSize":11.5,"color":"#131722","text":"H"},
 "encoding":{"x":{"datum":{"year":2022,"month":8,"date":15,"hours":1,"minutes":45},"type":"temporal"},"y":{"datum":1659.9,"type":"quantitative"}}},
{"data":{"values":[{}]},"mark":{"type":"text","align":"left","baseline":"middle","fontSize":11.5,"color":"#089981","text":"1288.99","dx":8.5},
 "encoding":{"x":{"datum":{"year":2022,"month":8,"date":15,"hours":1,"minutes":45},"type":"temporal"},"y":{"datum":1659.9,"type":"quantitative"}}},
{"data":{"values":[{}]},"mark":{"type":"text","align":"left","baseline":"middle","fontSize":11.5,"color":"#131722","text":"L"},
 "encoding":{"x":{"datum":{"year":2022,"month":8,"date":19,"hours":8,"minutes":4},"type":"temporal"},"y":{"datum":1659.9,"type":"quantitative"}}},
{"data":{"values":[{}]},"mark":{"type":"text","align":"left","baseline":"middle","fontSize":11.5,"color":"#089981","text":"1274.73","dx":6.6},
 "encoding":{"x":{"datum":{"year":2022,"month":8,"date":19,"hours":8,"minutes":4},"type":"temporal"},"y":{"datum":1659.9,"type":"quantitative"}}},
{"data":{"values":[{}]},"mark":{"type":"text","align":"left","baseline":"middle","fontSize":11.5,"color":"#131722","text":"C"},
 "encoding":{"x":{"datum":{"year":2022,"month":8,"date":23,"hours":6,"minutes":14},"type":"temporal"},"y":{"datum":1659.9,"type":"quantitative"}}},
{"data":{"values":[{}]},"mark":{"type":"text","align":"left","baseline":"middle","fontSize":11.5,"color":"#089981","text":"1283.40","dx":8.5},
 "encoding":{"x":{"datum":{"year":2022,"month":8,"date":23,"hours":6,"minutes":14},"type":"temporal"},"y":{"datum":1659.9,"type":"quantitative"}}},
{"data":{"values":[{}]},"mark":{"type":"text","align":"left","baseline":"middle","fontSize":11.5,"color":"#089981","text":"+3.46 (+0.27%)"},
 "encoding":{"x":{"datum":{"year":2022,"month":8,"date":27,"hours":9,"minutes":17},"type":"temporal"},"y":{"datum":1659.9,"type":"quantitative"}}},
{"data":{"values":[{}]},"mark":{"type":"point","shape":"M-1,-0.2528L1,-0.2528L1,0.2528L-1,0.2528Z","size":31684,"filled":true,"opacity":0.92,"strokeWidth":0,"color":"#7d7d7d"},
 "encoding":{"x":{"datum":{"year":2022,"month":8,"date":3,"hours":0,"minutes":43},"type":"temporal"},"y":{"datum":1173.5,"type":"quantitative"}}},
{"data":{"values":[{}]},"mark":{"type":"text","align":"center","baseline":"middle","fontSize":32,"color":"#ffffff","font":"DejaVu Sans","text":"⚙"},
 "encoding":{"x":{"datum":{"year":2022,"month":7,"date":29,"hours":16,"minutes":48},"type":"temporal"},"y":{"datum":1177.8,"type":"quantitative"}}},
{"data":{"values":[{}]},"mark":{"type":"text","align":"left","baseline":"alphabetic","fontSize":28.5,"color":"#ffffff","text":"instaforex"},
 "encoding":{"x":{"datum":{"year":2022,"month":7,"date":31,"hours":4,"minutes":30},"type":"temporal"},"y":{"datum":1167.9,"type":"quantitative"}}},
{"data":{"values":[{}]},"mark":{"type":"text","align":"left","baseline":"alphabetic","fontSize":10,"color":"#ffffff","text":"Instant Forex Trading"},
 "encoding":{"x":{"datum":{"year":2022,"month":7,"date":31,"hours":6,"minutes":9},"type":"temporal"},"y":{"datum":1159.8,"type":"quantitative"}}}
]
}
